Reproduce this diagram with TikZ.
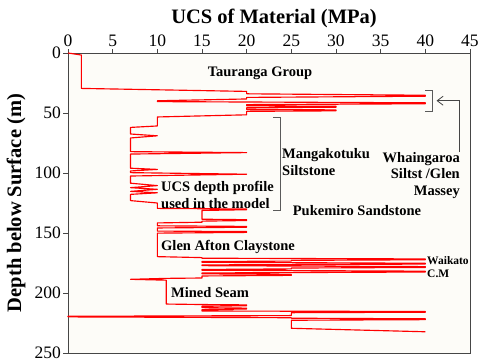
\documentclass[tikz,border=0pt]{standalone}
\usepackage{fontspec}
\setmainfont{Liberation Serif}
\usetikzlibrary{arrows.meta}
\definecolor{cream}{RGB}{253,252,248}
\definecolor{axiscol}{RGB}{70,70,70}
\definecolor{brackcol}{RGB}{90,90,90}
\definecolor{profred}{RGB}{255,0,0}
\tikzset{
  ticklab/.style={inner sep=0pt, font=\fontsize{17.5}{18}\selectfont},
  axtitle/.style={inner sep=0pt, font=\fontsize{20.5}{22}\selectfont\bfseries},
  lab/.style={inner sep=0pt, font=\fontsize{14.5}{16.5}\selectfont\bfseries},
  smalllab/.style={inner sep=0pt, font=\fontsize{11.5}{12.5}\selectfont\bfseries},
  brack/.style={draw=brackcol, line width=0.9pt},
  prof/.style={draw=profred, line width=1.15pt, line join=round}
}
\begin{document}
\begin{tikzpicture}[x=1pt,y=-1pt]
\useasboundingbox (0,0) rectangle (482,360);
% plot area
\fill[cream] (68,53) rectangle (470,353);
\draw[axiscol, line width=0.6pt] (470,53) -- (470,353) -- (68,353);
\draw[axiscol, line width=0.9pt] (68,353) -- (68,53) -- (470,53);
% x ticks
\foreach \v in {0,5,...,45} {
  \draw[axiscol, line width=0.9pt] ({68+8.933*\v},53) -- ({68+8.933*\v},49);
  \node[ticklab, anchor=base] (xt\v) at ({68+8.933*\v},46) {\v};
}
% y ticks
\foreach \v in {0,50,...,250} {
  \draw[axiscol, line width=0.9pt] (68,{53+1.2*\v}) -- (63,{53+1.2*\v});
  \node[ticklab, anchor=east] (yt\v) at (61,{53+1.2*\v}) {\v};
}
% titles
\node[axtitle] (xtitle) at (274,18) {UCS of Material (MPa)};
\node[axtitle, rotate=90] (ytitle) at (16,203) {Depth below Surface (m)};
% profile
\begin{scope}[shift={(68,53)}, x=8.933pt, y=-1.2pt]
\draw[prof] (0,0) -- (1.5,1.7) -- (1.5,29.5) -- (20,32) -- (20,34) -- (40,35.2) -- (40,36) -- (20,37) -- (20,38.3)
 -- (10,39.8) -- (10,40.5) -- (40,41.5) -- (40,42.3) -- (20,43) -- (20,44) -- (30,44.4) -- (30,45.2) -- (20,45.6)
 -- (20,47) -- (30,47.4) -- (30,48.2) -- (20,48.6) -- (20,51.5) -- (10,53.3) -- (10,60.8) -- (7,62)
 -- (7,67.5) -- (10,69) -- (7,70.8)
 -- (7,82.2) -- (20,83) -- (7,84.2)
 -- (7,96) -- (10,97) -- (7,98.3)
 -- (7,99.7) -- (20,101) -- (7,102.5)
 -- (7,108.5) -- (10,110.5) -- (7,112.2) -- (10,113.6) -- (7,115.3) -- (10,116.5) -- (7,117.8)
 -- (7,123) -- (10,125)
 -- (10,129.5) -- (20,130) -- (20,130.6) -- (15,131.2)
 -- (15,138.5) -- (20,138.9) -- (20,139.6) -- (15,140.1) -- (15,141) -- (10,141.6)
 -- (10,144) -- (20,144.5) -- (20,145.2) -- (10,145.8) -- (10,148.4) -- (20,148.8) -- (20,149.5) -- (10,150.1)
 -- (10,169.7) -- (15,170.5)
 -- (15,171) -- (40,171.6) -- (40,172.3) -- (25,172.8) -- (25,173.4) -- (15,173.8)
 -- (15,174.4) -- (40,175.2) -- (40,175.9) -- (15,176.6)
 -- (15,177.2) -- (40,178) -- (40,178.7) -- (25,179.2) -- (25,179.9) -- (15,180.4)
 -- (15,181) -- (40,181.8) -- (40,182.5) -- (15,183.3)
 -- (15,184) -- (25,184.5) -- (25,185.3) -- (15,185.8)
 -- (15,187.5) -- (11,187.8) -- (7,188.6) -- (11,189.3) -- (11,209.2) -- (15,209.6)
 -- (20,209.9) -- (20,210.6) -- (15,211.1) -- (15,212.2) -- (20,212.6) -- (20,213.3) -- (15,213.9)
 -- (15,215) -- (40,215.4) -- (40,216) -- (25,216.4) -- (25,218.8) -- (0,219.4) -- (0,219.9) -- (25,220.6)
 -- (25,221) -- (40,221.5) -- (40,222.2) -- (25,222.7) -- (25,229.4) -- (40,232.3);
\end{scope}
% labels
\node[lab] (taur) at (260,73) {Tauranga Group};
\node[lab, anchor=west, align=left] (mang) at (282,162) {Mangakotuku\\Siltstone};
\node[lab, anchor=east, align=right] (whai) at (460,175.5) {Whaingaroa\\Siltst /Glen\\Massey};
\node[lab, anchor=west, align=left] (ucs) at (161,195) {UCS depth profile\\used in the model};
\node[lab] (puke) at (357,211) {Pukemiro Sandstone};
\node[lab, anchor=west] (glen) at (161,246.5) {Glen Afton Claystone};
\node[smalllab, anchor=west, align=left] (waik) at (427,267) {Waikato\\C.M};
\node[lab, anchor=west] (mined) at (171,293) {Mined Seam};
% brackets
\coordinate (b1a) at (425,90);
\coordinate (b1b) at (432,90);
\coordinate (b1c) at (432,111);
\coordinate (b1d) at (425,111);
\draw[brack] (b1a) -- (b1b) -- (b1c) -- (b1d);
\coordinate (b2a) at (273,117);
\coordinate (b2b) at (280,117);
\coordinate (b2c) at (280,210);
\coordinate (b2d) at (273,210);
\draw[brack] (b2a) -- (b2b) -- (b2c) -- (b2d);
% arrow
\coordinate (arrS) at (459.3,152);
\coordinate (arrE) at (436.5,100.7);
\draw[axiscol, line width=0.8pt, -{Straight Barb[length=6pt,width=9pt]}] (arrS) |- (arrE);
\end{tikzpicture}
\end{document}
